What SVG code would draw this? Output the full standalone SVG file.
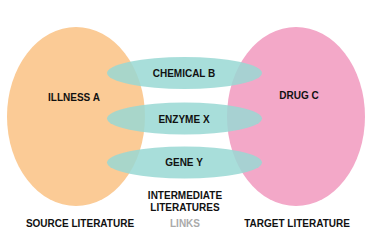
<svg xmlns="http://www.w3.org/2000/svg" width="375" height="250" viewBox="0 0 375 250">
<style>
text{font-family:"Liberation Sans",Arial,sans-serif;font-weight:bold;font-size:10px;fill:#111;text-anchor:middle;dominant-baseline:central}
.link{fill:#99D8D4;opacity:0.85}
.gray{fill:#aaa}
</style>
<rect width="375" height="250" fill="#fff"/>
<g id="source">
<ellipse cx="76" cy="116.5" rx="69" ry="89.5" fill="#FBCB96"/>
<text x="74" y="97">ILLNESS A</text>
</g>
<g id="target">
<ellipse cx="296" cy="116.5" rx="69" ry="89.5" fill="#F3A8C8"/>
<text x="299" y="95">DRUG C</text>
</g>
<g id="connectors">
<g id="chemical">
<ellipse class="link" cx="184.5" cy="73" rx="77.5" ry="16"/>
<text x="184" y="73">CHEMICAL B</text>
</g>
<g id="enzyme">
<ellipse class="link" cx="184.5" cy="118.5" rx="77.5" ry="16"/>
<text x="184" y="119">ENZYME X</text>
</g>
<g id="gene">
<ellipse class="link" cx="184.5" cy="162.5" rx="77.5" ry="16"/>
<text x="184" y="162">GENE Y</text>
</g>
</g>
<g id="labels">
<text x="185" y="195">INTERMEDIATE</text>
<text x="185" y="207">LITERATURES</text>
<text x="80" y="223">SOURCE LITERATURE</text>
<text class="gray" x="185" y="223">LINKS</text>
<text x="297" y="223">TARGET LITERATURE</text>
</g>
</svg>
